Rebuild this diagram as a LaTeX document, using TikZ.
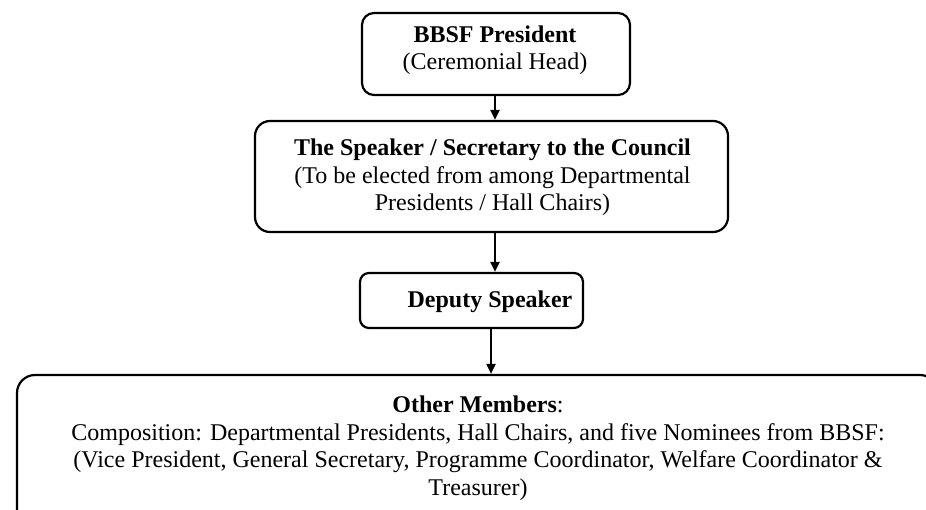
\documentclass[tikz,border=0pt]{standalone}
\usepackage{fontspec}
\setmainfont{Liberation Serif}
\usetikzlibrary{arrows.meta}
\tikzset{
  box/.style={draw=black, line width=2.2pt, inner sep=0pt, fill=none},
  txt/.style={align=center, inner sep=0pt, font=\fontsize{24}{27.5}\selectfont},
  arr/.style={line width=2pt, -{Triangle[length=10pt,width=9pt]}}
}
\begin{document}
\begin{tikzpicture}[x=1pt,y=-1pt]
\useasboundingbox (0,0) rectangle (926,509);
\node[box, rounded corners=12pt, minimum width=268pt, minimum height=82pt] (b1) at (496,54) {};
\node[box, rounded corners=15pt, minimum width=473pt, minimum height=111pt] (b2) at (491.5,176.5) {};
\node[box, rounded corners=9pt, minimum width=223pt, minimum height=55pt] (b3) at (471.5,300.5) {};
\node[box, rounded corners=18pt, minimum width=921pt, minimum height=155pt] (b4) at (477.5,452.5) {};
\node[txt] (t1) at (495,50) {\textbf{BBSF President}\\(Ceremonial Head)};
\node[txt] (t2) at (492.5,177.5) {\textbf{The Speaker / Secretary to the Council}\\(To be elected from among Departmental\\Presidents / Hall Chairs)};
\node[txt] (t3) at (490,302) {\textbf{Deputy Speaker}};
\node[txt] (t4) at (478,448) {\textbf{Other Members}:\\Composition: Departmental Presidents, Hall Chairs, and five Nominees from BBSF:\\(Vice President, General Secretary, Programme Coordinator, Welfare Coordinator \&\\Treasurer)};
\draw[arr] ([xshift=-1pt]b1.south) -- ([xshift=-1pt]b1.south |- b2.north);
\draw[arr] ([xshift=3.5pt]b2.south) -- ([xshift=3.5pt]b2.south |- b3.north);
\draw[arr] ([xshift=19.5pt]b3.south) -- ([xshift=19.5pt]b3.south |- b4.north);
\end{tikzpicture}
\end{document}
